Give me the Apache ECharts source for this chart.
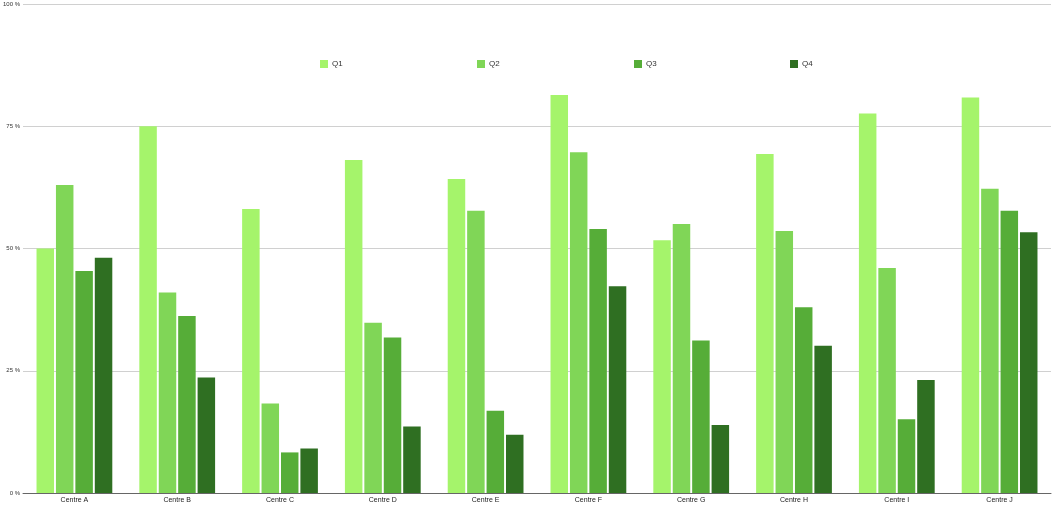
<!DOCTYPE html>
<html><head><meta charset="utf-8">
<script src="https://cdn.jsdelivr.net/npm/echarts@6/dist/echarts.min.js"></script>
<style>html,body{margin:0;padding:0;background:#fff}#c{width:1053px;height:505px}</style>
</head><body><div id="c"></div>
<script>
const categories = ['Centre A','Centre B','Centre C','Centre D','Centre E','Centre F','Centre G','Centre H','Centre I','Centre J'];
const seriesNames = ['Q1','Q2','Q3','Q4'];
const q1 = [50.0, 75.0, 58.1, 68.1, 64.2, 81.4, 51.7, 69.3, 77.6, 80.9];
const q2 = [63.0, 41.0, 18.3, 34.8, 57.7, 69.7, 55.0, 53.6, 46.0, 62.2];
const q3 = [45.4, 36.2, 8.3, 31.8, 16.8, 54.0, 31.2, 38.0, 15.1, 57.7];
const q4 = [48.1, 23.6, 9.1, 13.6, 11.9, 42.3, 13.9, 30.1, 23.1, 53.3];
const yTicks = {min: 0, max: 100, interval: 25};
const colors = ['#a5f46b', '#80d657', '#56ad38', '#2f6f22'];
const values = [q1, q2, q3, q4];
const font = 'Liberation Sans, Arial, sans-serif';
const legendLefts = [315, 472, 629, 785];
const chart = echarts.init(document.getElementById('c'));
chart.setOption({
  animation: false,
  color: colors,
  grid: {left: 17, right: 2, top: 4, bottom: 12, containLabel: false},
  legend: seriesNames.map((n, i) => ({
    data: [n], left: legendLefts[i], top: 55, itemWidth: 8, itemHeight: 8, icon: 'rect', itemGap: 0,
    textStyle: {fontSize: 8, color: '#333', fontFamily: font, padding: [0, 0, 0, -1]}
  })),
  xAxis: {
    type: 'category', data: categories,
    axisLine: {lineStyle: {color: '#666', width: 1}},
    axisTick: {show: false},
    axisLabel: {fontSize: 7, color: '#222', fontFamily: font, margin: 4}
  },
  yAxis: {
    type: 'value', min: yTicks.min, max: yTicks.max, interval: yTicks.interval,
    axisLine: {show: false}, axisTick: {show: false},
    splitLine: {lineStyle: {color: '#d0d0d0', width: 1}},
    axisLabel: {fontSize: 6, color: '#333', fontFamily: font, margin: 3, formatter: '{value} %'}
  },
  series: seriesNames.map((n, i) => ({
    name: n, type: 'bar', data: values[i],
    barWidth: 17.5, barGap: '11%',
    itemStyle: {color: colors[i]}
  }))
});
</script></body></html>
